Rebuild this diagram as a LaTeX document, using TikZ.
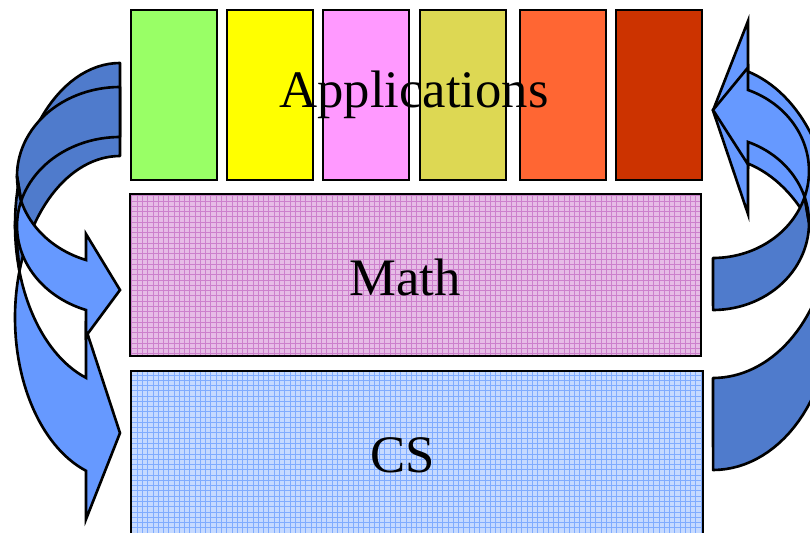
\documentclass[tikz,border=0pt]{standalone}
\usepackage{fontspec}
\setmainfont{Liberation Serif}
\usepackage{tikz}
\usetikzlibrary{patterns}
\definecolor{appA}{HTML}{99FF66}
\definecolor{appB}{HTML}{FFFF00}
\definecolor{appC}{HTML}{FF99FF}
\definecolor{appD}{HTML}{DDD853}
\definecolor{appE}{HTML}{FF6633}
\definecolor{appF}{HTML}{CC3300}
\definecolor{mathbg}{HTML}{E6BCE6}
\definecolor{mathln}{HTML}{CC80CC}
\definecolor{csbg}{HTML}{C6DAFF}
\definecolor{csln}{HTML}{80ACFF}
\definecolor{arrowback}{HTML}{4F7BCC}
\definecolor{arrowfront}{HTML}{6699FF}

\tikzset{
  appbox/.style={draw=black, line width=1.5pt},
  mathlayer/.style={draw=black, line width=1.5pt, preaction={fill=mathbg}, pattern=grid, pattern color=mathln},
  cslayer/.style={draw=black, line width=1.5pt, preaction={fill=csbg}, pattern=grid, pattern color=csln},
  backband/.style={fill=arrowback, draw=black, line width=1.5pt, line join=round},
  frontband/.style={fill=arrowfront, draw=black, line width=1.5pt},
  bigtext/.style={font=\fontsize{30}{36}\selectfont, inner sep=0pt, anchor=base}
}

% curved arrow: width, height, band, head width, head length
\newcommand{\bentarrow}[5]{%
  \pgfmathsetmacro\aHR{#2/2-(#3+#4)/4}
  \pgfmathsetmacro\aPhi{acos(#5/#1)}
  \pgfmathsetmacro\aXa{#1-#5}
  \pgfmathsetmacro\aYf{\aHR+\aHR*sin(\aPhi)}
  \pgfmathsetmacro\aYs{\aYf+#3}
  \pgfmathsetmacro\aDh{(#4-#3)/2}
  \pgfmathsetmacro\aTp{180+asin(#3/(2*\aHR))}
  \filldraw[backband] plot[domain=0:1,samples=30] ({#1+#1*cos(180+90*\x)},{\aHR+\aHR*sin(180+90*\x)})
    -- (#1,#3)
    -- plot[domain=0:1,samples=30] ({#1+#1*cos(270-(270-\aTp)*\x)},{\aHR+#3+\aHR*sin(270-(270-\aTp)*\x)})
    -- cycle;
  \filldraw[frontband] plot[domain=0:1,samples=30] ({#1+#1*cos(180-\aPhi*\x)},{\aHR+\aHR*sin(180-\aPhi*\x)})
    -- (\aXa,\aYf-\aDh) -- (#1,#2-#4/2) -- (\aXa,\aYs+\aDh)
    -- plot[domain=0:1,samples=30] ({#1+#1*cos(180-\aPhi+\aPhi*\x)},{\aHR+#3+\aHR*sin(180-\aPhi+\aPhi*\x)})
    -- plot[domain=0:1,samples=12] ({#1+#1*cos(180+(\aTp-180)*\x)},{\aHR+#3+\aHR*sin(180+(\aTp-180)*\x)})
    -- cycle;
}

\begin{document}
\begin{tikzpicture}[x=0.02cm, y=-0.02cm]
  \useasboundingbox (0,0) rectangle (810,533);
  \clip (0,0) rectangle (810,533);

  % application blocks
  \foreach \xl/\col in {131/appA, 227/appB, 323/appC, 420/appD, 520/appE, 616/appF}
    \draw[appbox, fill=\col] (\xl,10) rectangle ++(86,170);

  % layers
  \draw[mathlayer] (130,194) rectangle (701,356);
  \draw[cslayer] (131,371) rectangle (703,545);

  \node[bigtext] (apps) at (414,108) {Applications};
  \node[bigtext] (math) at (405,295) {Math};
  \node[bigtext] (cs) at (403,472) {CS};

  % left arrows, down into the layers
  \begin{scope}[shift={(15,63)}]
    \bentarrow{105}{465}{93}{190}{34}
  \end{scope}
  \begin{scope}[shift={(17,87)}]
    \bentarrow{103}{254}{50}{102}{34}
  \end{scope}

  % right arrows, back up to the applications
  \begin{scope}[shift={(831,470)}, rotate=180]
    \bentarrow{118}{456}{92}{193}{35}
  \end{scope}
  \begin{scope}[shift={(809,310)}, rotate=180]
    \bentarrow{96}{248.5}{52}{97}{35}
  \end{scope}
\end{tikzpicture}
\end{document}
